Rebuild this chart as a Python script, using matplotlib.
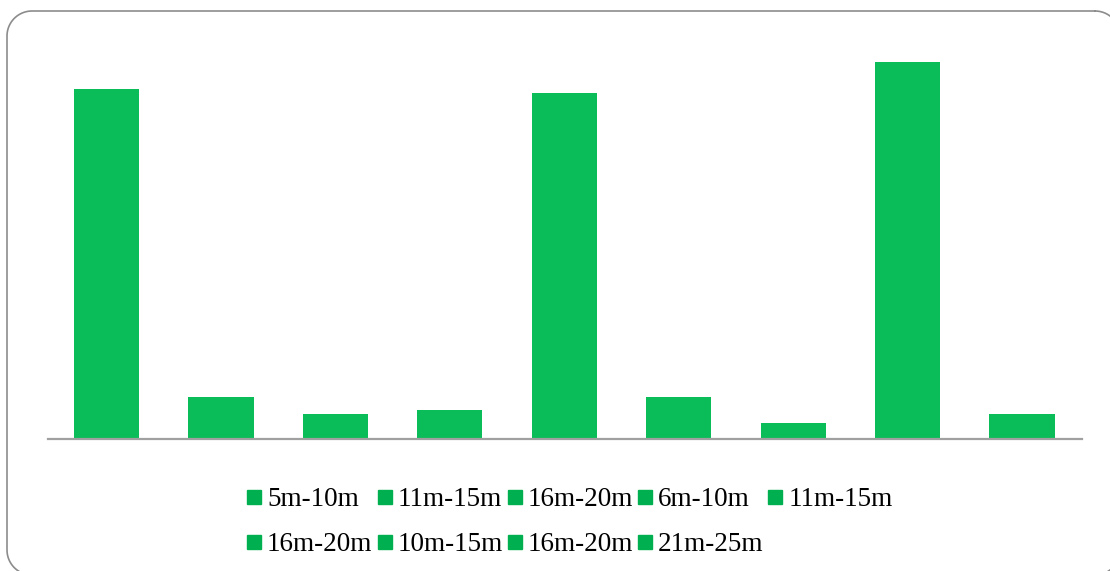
import numpy as np
import matplotlib
matplotlib.use('Agg')
from matplotlib import pyplot as plt
from matplotlib.lines import Line2D

W, H = 1110, 571

labels = ['5m-10m', '11m-15m', '16m-20m', '6m-10m', '11m-15m',
          '16m-20m', '10m-15m', '16m-20m', '21m-25m']
values = [350, 42, 25, 29, 346, 42, 16, 377, 25]

BAR_COLOR = '#0BBD58'
KEY_COLOR = '#00B050'
AXIS_COLOR = '#A0A0A0'


def rounded_rect(x0, y0, x1, y1, r, n=20):
    """Outline of a rounded rectangle in pixels (top-left origin) -> figure fraction."""
    xs, ys = [], []
    corners = [(x1 - r, y0 + r, -90), (x1 - r, y1 - r, 0),
               (x0 + r, y1 - r, 90), (x0 + r, y0 + r, 180)]
    for cx, cy, start in corners:
        t = np.radians(np.linspace(start, start + 90, n))
        xs.extend(cx + r * np.cos(t))
        ys.extend(cy + r * np.sin(t))
    xs.append(xs[0])
    ys.append(ys[0])
    return np.array(xs) / W, 1 - np.array(ys) / H


fig = plt.figure(figsize=(W / 100, H / 100), dpi=100)

# rounded frame around the whole chart (runs off the right and bottom edges)
fx, fy = rounded_rect(7, 11, 1120, 575, 25)
fig.add_artist(Line2D(fx, fy, transform=fig.transFigure, color='#8C8C8C',
                      linewidth=1.2, zorder=-1))

ax = fig.add_axes([48 / W, (H - 439) / H, (1082 - 48) / W, 400 / H])
ax.patch.set_alpha(0)
x = range(len(values))
ax.bar(x, values, width=0.57, color=BAR_COLOR)
ax.set_xlim(-0.511, len(values) - 0.476)
ax.set_ylim(0, 400)
for side in ['top', 'right', 'left']:
    ax.spines[side].set_visible(False)
ax.spines['bottom'].set_color(AXIS_COLOR)
ax.spines['bottom'].set_linewidth(1.6)
ax.set_xticks([])
ax.set_yticks([])

# legend laid out row by row (matplotlib fills columns first)
handles = [Line2D([], [], marker='s', linestyle='none', markersize=9.5,
                  color=KEY_COLOR) for _ in labels]
order = [0, 5, 1, 6, 2, 7, 3, 8, 4]
fig.legend([handles[i] for i in order], [labels[i] for i in order],
           ncol=5, loc='center', bbox_to_anchor=(570 / W, 1 - 522 / H),
           frameon=False, prop={'family': 'Liberation Serif', 'size': 19.5},
           handlelength=0.5, handletextpad=0.22, columnspacing=0.2,
           labelspacing=0.74, borderpad=0)

fig.savefig('out.png', dpi=100)
